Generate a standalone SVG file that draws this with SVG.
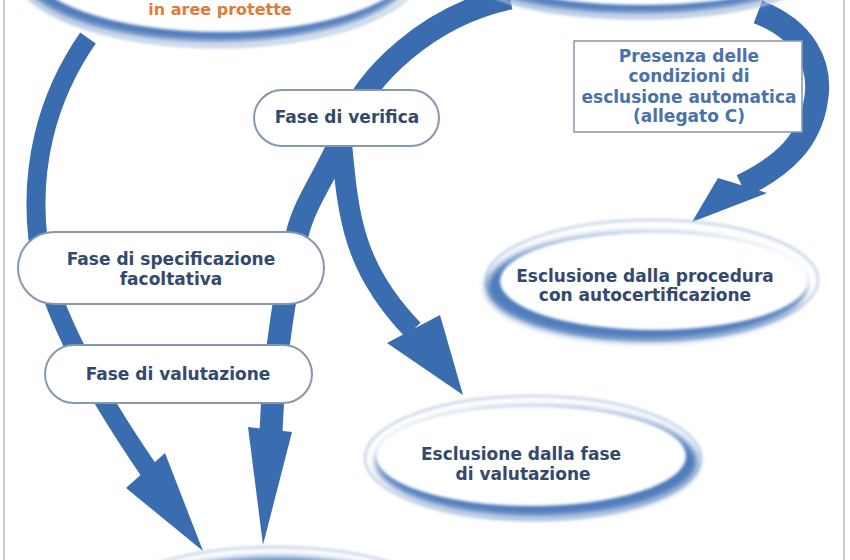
<svg xmlns="http://www.w3.org/2000/svg" width="850" height="560" viewBox="0 0 850 560">
<defs>
<filter id="b3" x="-20%" y="-30%" width="140%" height="160%"><feGaussianBlur stdDeviation="3.5"/></filter>
<filter id="b1" x="-10%" y="-20%" width="120%" height="140%"><feGaussianBlur stdDeviation="1.5"/></filter>
<style>
.arr{fill:none;stroke:#3a6cb0;stroke-linecap:butt}
.head{fill:#3a6cb0}
.ring{fill:none;stroke:#c4d2e6;stroke-width:2.5}
.shade{fill:#4f7bbb}
.face{fill:#ffffff}
.pill{fill:#ffffff;stroke:#8797ae;stroke-width:2}
.box{fill:#ffffff;stroke:#8d9cb2;stroke-width:1.6}
.t{font-family:"DejaVu Sans","Liberation Sans",sans-serif;font-weight:bold;font-size:17px;text-anchor:middle}
.dk{fill:#34496b}
.bl{fill:#4a72aa}
.or{fill:#e07a38;font-size:16px}
.frame{stroke:#b9b9b9;stroke-width:1.5}
</style>
</defs>
<rect x="0" y="0" width="850" height="560" fill="#ffffff"/>
<line class="frame" x1="4" y1="0" x2="4" y2="560"/>
<line class="frame" x1="844" y1="0" x2="844" y2="560"/>

<g id="connectors">
<path class="arr" stroke-width="19" d="M 88 38 C 45 100, 30 170, 38 240 C 46 300, 84 376, 150 472"/>
<polygon class="head" points="126,488 165,453 203,551"/>
<path class="arr" stroke-width="23" d="M 510 -2 C 430 15, 365 75, 345 130 C 330 170, 305 200, 297 235 C 288 280, 274 350, 271 432"/>
<polygon class="head" points="248,427 292,432 263,545"/>
<path class="arr" stroke-width="21" d="M 341 138 C 348 210, 350 265, 413 330"/>
<polygon class="head" points="387,343 440,315 463,395"/>
<path class="arr" stroke-width="24" d="M 758 12 C 805 30, 822 65, 816 100 C 810 140, 785 165, 742 186"/>
<polygon class="head" points="718,178 767,193 692,222"/>
</g>

<g id="n-top-left">
<ellipse class="ring" cx="218" cy="-33" rx="206" ry="80" filter="url(#b1)"/>
<ellipse class="shade" cx="216" cy="-30" rx="198" ry="72" filter="url(#b3)"/>
<ellipse class="face" cx="220" cy="-36" rx="192" ry="68" filter="url(#b1)"/>
<text class="t or" x="220" y="15">in aree protette</text>
</g>

<g id="n-top-right">
<ellipse class="ring" cx="640" cy="-30" rx="176" ry="48" filter="url(#b1)"/>
<ellipse class="shade" cx="638" cy="-28" rx="168" ry="42" filter="url(#b3)"/>
<ellipse class="face" cx="642" cy="-33" rx="162" ry="38" filter="url(#b1)"/>
</g>

<g id="n-verifica">
<rect class="pill" x="254" y="90" width="185" height="56" rx="28"/>
<text class="t dk" x="347" y="123">Fase di verifica</text>
</g>

<g id="n-presenza">
<rect class="box" x="574" y="41" width="228" height="91"/>
<text class="t bl" x="689" y="62">Presenza delle</text>
<text class="t bl" x="689" y="82">condizioni di</text>
<text class="t bl" x="689" y="103">esclusione automatica</text>
<text class="t bl" x="689" y="122">(allegato C)</text>
</g>

<g id="n-specificazione">
<rect class="pill" x="18" y="232" width="306" height="72" rx="36"/>
<text class="t dk" x="171" y="265">Fase di specificazione</text>
<text class="t dk" x="171" y="285">facoltativa</text>
</g>

<g id="n-valutazione">
<rect class="pill" x="45" y="345" width="267" height="58" rx="29"/>
<text class="t dk" x="178" y="380">Fase di valutazione</text>
</g>

<g id="n-escl-procedura">
<ellipse class="ring" cx="652" cy="280" rx="166" ry="60" filter="url(#b1)"/>
<ellipse class="shade" cx="646" cy="287" rx="160" ry="54" filter="url(#b3)"/>
<ellipse class="face" cx="654" cy="281" rx="154" ry="49" filter="url(#b1)"/>
<text class="t dk" x="645" y="282">Esclusione dalla procedura</text>
<text class="t dk" x="645" y="301">con autocertificazione</text>
</g>

<g id="n-escl-fase">
<ellipse class="ring" cx="533" cy="458" rx="168" ry="62" filter="url(#b1)"/>
<ellipse class="shade" cx="537" cy="462" rx="161" ry="55" filter="url(#b3)"/>
<ellipse class="face" cx="531" cy="456" rx="155" ry="50" filter="url(#b1)"/>
<text class="t dk" x="521" y="460">Esclusione dalla fase</text>
<text class="t dk" x="523" y="480">di valutazione</text>
</g>

<g id="n-bottom">
<ellipse class="ring" cx="275" cy="615" rx="182" ry="68" filter="url(#b1)"/>
<ellipse class="shade" cx="275" cy="619" rx="174" ry="62" filter="url(#b3)"/>
<ellipse class="face" cx="277" cy="622" rx="168" ry="60" filter="url(#b1)"/>
</g>
</svg>
